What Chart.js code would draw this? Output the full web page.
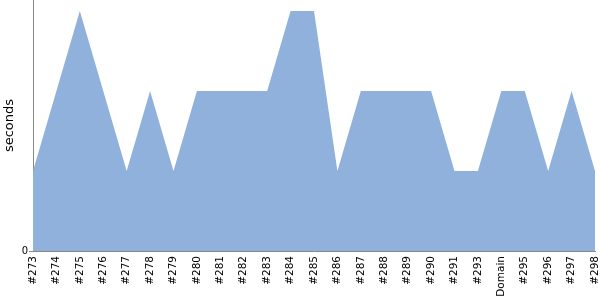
<!DOCTYPE html>
<html>
<head>
<meta charset="utf-8">
<script src="https://cdn.jsdelivr.net/npm/chart.js@4/dist/chart.umd.min.js"></script>
<style>
  html, body { margin:0; padding:0; background:#fff; }
  #wrap { position:relative; width:600px; height:300px; }
</style>
</head>
<body>
<div id="wrap"><canvas id="c"></canvas></div>
<script>
const builds = ['#273','#274','#275','#276','#277','#278','#279','#280','#281','#282','#283','#284','#285','#286','#287','#288','#289','#290','#291','#293','Domain','#295','#296','#297','#298'];
const seconds = [1,2,3,2,1,2,1,2,2,2,2,3,3,1,2,2,2,2,1,1,2,2,1,2,1];
const yTicks = [0];

Chart.defaults.font.family = 'DejaVu Sans';
Chart.defaults.color = '#000';

new Chart(document.getElementById('c'), {
  type: 'line',
  data: {
    labels: builds,
    datasets: [{
      data: seconds,
      fill: 'origin',
      backgroundColor: '#8fb1db',
      borderWidth: 0,
      pointRadius: 0,
      tension: 0
    }]
  },
  options: {
    responsive: true,
    maintainAspectRatio: false,
    animation: false,
    layout: { padding: { top: 0, right: 5, left: 0, bottom: 0 } },
    plugins: { legend: { display: false }, tooltip: { enabled: false } },
    scales: {
      x: {
        offset: false,
        grid: { drawOnChartArea: false, drawTicks: false },
        border: { color: '#888', width: 1 },
        ticks: { autoSkip: false, minRotation: 90, maxRotation: 90, padding: 5, font: { size: 10.5 } },
        afterFit: s => { s.height = 49; s.paddingLeft = 0; s.paddingRight = 0; }
      },
      y: {
        min: 0,
        max: 3.1375,
        afterBuildTicks: s => { s.ticks = yTicks.map(v => ({ value: v })); },
        grid: { drawOnChartArea: false, drawTicks: true, tickLength: 4, color: '#888' },
        border: { color: '#888', width: 1 },
        ticks: { padding: 1, font: { size: 10 } },
        title: { display: true, text: 'seconds', font: { size: 13 }, padding: { top: 2, bottom: 0 } },
        afterFit: s => { s.width = 33; s.paddingTop = 0; s.paddingBottom = 0; }
      }
    }
  }
});
</script>
</body>
</html>
